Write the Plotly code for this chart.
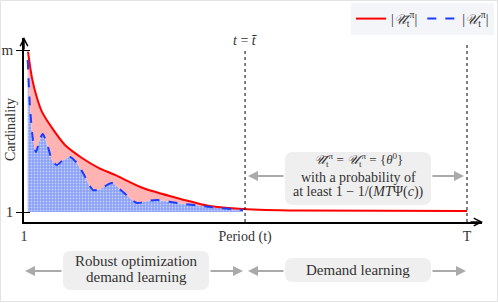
import plotly.graph_objects as go

# ---------------- data ----------------
T_BAR = 50.4          # period t = t-bar
T_END = 100           # final period T
M_VAL = 10            # cardinality m

red_x = [1.89, 2.79, 3.91, 5.02, 7.26, 10.16, 13.96, 17.76, 21.34, 27.59, 35.19, 42.57, 49.94, 62.0, 100.0]
red_y = [9.91, 8.44, 7.33, 6.56, 5.67, 4.72, 4.00, 3.44, 3.06, 2.33, 1.78, 1.33, 1.17, 1.08, 1.06]

blue_x = [1.83, 2.34, 3.01, 3.68, 4.35, 5.18, 6.36, 7.26, 8.31, 9.72, 11.28, 12.62, 14.19,
          16.42, 18.0, 20.67, 23.12, 26.25, 28.49, 30.73, 35.19, 42.57, 49.95]
blue_y = [9.44, 6.83, 5.00, 4.33, 4.89, 5.33, 4.61, 3.89, 3.61, 3.89, 4.06, 3.78, 3.17,
          2.22, 2.28, 2.61, 2.11, 1.50, 1.61, 1.67, 1.50, 1.28, 1.11]

x_tickvals = [1, T_BAR, T_END]
x_ticktext = ["1", "Period (t)", "T"]
y_tickvals = [1, M_VAL]
y_ticktext = ["1", "m"]

SERIF = "Liberation Serif"
GRAY_ARROW = "#aaaaaa"
BOX_FILL = "#efefef"

# ---------------- layout geometry (pixels) ----------------
W, H = 498, 303
L, R, TOP, B = 24, 16, 38, 81
PW, PH = W - L - R, H - TOP - B


def pxx(xp):
    return (xp - L) / PW


def pyy(yp):
    return (H - B - yp) / PH


fig = go.Figure()

# baseline at cardinality 1 (lower edge of the blue area)
fig.add_trace(go.Scatter(x=[blue_x[0], blue_x[-1]], y=[1, 1], mode="lines",
                         line=dict(width=0), showlegend=False, hoverinfo="skip"))
# blue dotted area
fig.add_trace(go.Scatter(x=blue_x, y=blue_y, mode="lines", fill="tonexty",
                         line=dict(width=0, shape="spline", smoothing=0.7),
                         fillcolor="#8aa0f7",
                         fillpattern=dict(shape=".", bgcolor="#8aa0f7", fgcolor="white",
                                          size=3, solidity=0.3),
                         showlegend=False, hoverinfo="skip"))
# pink area between the curves
rx = [x for x in red_x if x <= T_BAR]
ry = [y for x, y in zip(red_x, red_y) if x <= T_BAR]
fig.add_trace(go.Scatter(x=rx, y=ry, mode="lines", fill="tonexty",
                         fillcolor="#ffb3b3",
                         line=dict(width=0, shape="spline", smoothing=0.6),
                         showlegend=False, hoverinfo="skip"))
# red line
fig.add_trace(go.Scatter(x=red_x, y=red_y, mode="lines", name="|<i>𝒰̄</i><sub>t</sub><sup>π</sup>|",
                         line=dict(color="#ff0000", width=2, shape="spline", smoothing=0.6)))
# blue dashed line
fig.add_trace(go.Scatter(x=blue_x, y=blue_y, mode="lines", name="|<i>𝒰</i><sub>t</sub><sup>π</sup>|",
                         line=dict(color="#1a3dff", width=2, dash="dash", shape="spline", smoothing=0.7)))

x_lo = 1
x_hi = 1 + (T_END - 1) * PW / (467 - L)
y_lo = 1 - (H - B - 212) / 18
y_hi = 1 + (212 - TOP) / 18

fig.update_layout(
    width=W, height=H,
    margin=dict(l=L, r=R, t=TOP, b=B, autoexpand=False),
    paper_bgcolor="white", plot_bgcolor="rgba(0,0,0,0)",
    font=dict(family=SERIF, size=14, color="#222"),
    xaxis=dict(range=[x_lo, x_hi], showgrid=False, zeroline=False, showline=True, automargin=False,
               linecolor="black", linewidth=1.5, tickvals=x_tickvals, ticktext=x_ticktext,
               ticks="", tickfont=dict(family=SERIF, size=14, color="#333")),
    yaxis=dict(range=[y_lo, y_hi], showgrid=False, zeroline=False, showline=True, automargin=False,
               linecolor="black", linewidth=1.5, tickvals=y_tickvals, ticktext=y_ticktext,
               ticks="outside", ticklen=6, tickwidth=1.3, tickcolor="black",
               minor=dict(tickvals=y_tickvals, ticks="inside", ticklen=6, tickwidth=1.3, tickcolor="black"),
               tickfont=dict(family=SERIF, size=15, color="#333")),
    legend=dict(orientation="h", x=pxx(494), xanchor="right", y=pyy(3), yanchor="top",
                traceorder="normal",
                bgcolor="#f4f5f8", font=dict(family=SERIF, size=14, color="#333"),
                itemwidth=30),
    showlegend=True,
)


def rounded(x0, y0, x1, y1, r=8):
    X0, X1 = pxx(x0), pxx(x1)
    Y0, Y1 = pyy(y1), pyy(y0)
    rx, ry = r / PW, r / PH
    return (f"M{X0+rx},{Y0} L{X1-rx},{Y0} Q{X1},{Y0} {X1},{Y0+ry} L{X1},{Y1-ry} "
            f"Q{X1},{Y1} {X1-rx},{Y1} L{X0+rx},{Y1} Q{X0},{Y1} {X0},{Y1-ry} "
            f"L{X0},{Y0+ry} Q{X0},{Y0} {X0+rx},{Y0} Z")


shapes = []
for (a, b, c, d) in [(285, 152, 431, 205), (63, 251, 209, 290), (285, 258, 431, 282)]:
    shapes.append(dict(type="path", path=rounded(a, b, c, d), xref="paper", yref="paper",
                       fillcolor=BOX_FILL, line=dict(width=0), layer="below"))
# vertical dotted lines at t-bar and T
shapes.append(dict(type="line", xref="x", yref="paper", x0=T_BAR, x1=T_BAR, y0=0, y1=pyy(50),
                   line=dict(color="black", width=1, dash="dot")))
shapes.append(dict(type="line", xref="x", yref="paper", x0=T_END, x1=T_END, y0=0, y1=pyy(43),
                   line=dict(color="black", width=1, dash="dot")))
# outer frame
shapes.append(dict(type="rect", xref="paper", yref="paper", x0=pxx(0.5), x1=pxx(W - 0.5),
                   y0=pyy(H - 1.5), y1=pyy(0.5), line=dict(color="#e3e3e3", width=1),
                   fillcolor="rgba(0,0,0,0)", layer="below"))
fig.update_layout(shapes=shapes)

ann = []
# axis arrowheads
ann.append(dict(x=pxx(24), y=pyy(37), xref="paper", yref="paper", ax=0, ay=14, text="",
                showarrow=True, arrowhead=5, arrowsize=1, arrowwidth=1.5, arrowcolor="black"))
ann.append(dict(x=pxx(483), y=pyy(222), xref="paper", yref="paper", ax=-14, ay=0, text="",
                showarrow=True, arrowhead=5, arrowsize=1, arrowwidth=1.5, arrowcolor="black"))
# gray range arrows (head, tail)
for (hx, tx, yy) in [(248, 285, 176), (464, 431, 176), (25, 63, 271),
                     (243, 209, 271), (248, 285, 271), (466, 431, 271)]:
    ann.append(dict(x=pxx(hx), y=pyy(yy), xref="paper", yref="paper", ax=tx - hx, ay=0,
                    text="", showarrow=True, arrowhead=2, arrowsize=1, arrowwidth=2,
                    arrowcolor=GRAY_ARROW))


def txt(s, xp, yp, size=13, angle=0):
    ann.append(dict(x=pxx(xp), y=pyy(yp), xref="paper", yref="paper", text=s, showarrow=False,
                    font=dict(family=SERIF, size=size, color="#333"), xanchor="center",
                    yanchor="middle", textangle=angle))


txt("<i>t</i> = <i>t̄</i>", 245, 41, 14)
txt("Cardinality", 10, 130, 14, -90)
txt("<i>𝒰̄</i><sub>t</sub><sup>π</sup> = <i>𝒰</i><sub>t</sub><sup>π</sup> = {<i>θ</i><sup>0</sup>}", 358, 160, 13)
txt("with a probability of", 358, 177, 14)
txt("at least 1 − 1/(<i>MT</i>Ψ(<i>c</i>))", 358, 192, 14)
txt("Robust optimization", 136, 261, 15)
txt("demand learning", 136, 277, 15)
txt("Demand learning", 358, 270, 15)
fig.update_layout(annotations=ann)

fig.write_html("out.html", config={"displayModeBar": False},
               post_script="document.body.style.margin='0';document.body.style.padding='0';"
                           "document.body.style.overflow='hidden';")
